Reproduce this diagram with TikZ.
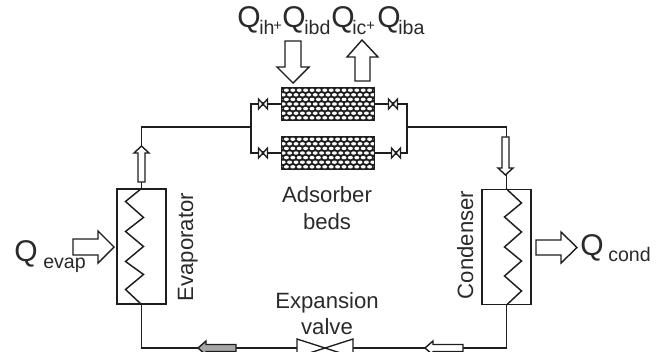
\documentclass[tikz,border=0pt]{standalone}
\usepackage{fontspec}
\setmainfont{Liberation Sans}
\definecolor{ink}{HTML}{1E1E1E}
\definecolor{txt}{HTML}{2A2A2A}
\newcommand{\bigf}{\fontsize{22.5}{26}\selectfont}
\newcommand{\subf}{\fontsize{14.7}{17}\selectfont}
\newcommand{\plusf}{\fontsize{11}{12}\selectfont}
\newcommand{\labf}{\fontsize{16.6}{20}\selectfont}
\newcommand{\bedmesh}[1]{%
  \begin{scope}
    \clip (#1.south west) rectangle (#1.north east);
    \fill[ink] (#1.south west) rectangle (#1.north east);
    \foreach \r in {0,...,6}{
      \foreach \c in {0,...,15}{
        \pgfmathsetmacro{\dx}{\c*6.4+mod(\r,2)*3.2-48}
        \pgfmathsetmacro{\dy}{\r*4.6-13.8}
        \fill[white] ([shift={(\dx,\dy)}]#1.center) ellipse [x radius=2.5, y radius=1.7];
      }
    }
  \end{scope}
  \draw[frame] (#1.south west) rectangle (#1.north east);}
\newcommand{\valveglyph}[1]{%
  \draw[thinline,fill=white] ([shift={(-4.5,-5)}]#1.center) -- ([shift={(4.5,5)}]#1.center) -- ([shift={(4.5,-5)}]#1.center) -- ([shift={(-4.5,5)}]#1.center) -- cycle;
  \draw[thinline] ([shift={(0,-2)}]#1.center) -- ([shift={(0,2)}]#1.center);}
\tikzset{
  x=0.75pt,y=-0.75pt,
  frame/.style={draw=ink,line width=1.05pt},
  thinline/.style={draw=ink,line width=1pt,line join=miter},
  pipe/.style={draw=ink,line width=1pt},
  coil/.style={draw=ink,line width=1.1pt,line join=miter},
  blockarrow/.style={draw=ink,line width=1.05pt,fill=white,line join=miter},
  greyarrow/.style={draw=ink,line width=1.05pt,fill=gray!70,line join=miter},
  unit/.style={draw=ink,line width=1.05pt,minimum width=36.75pt,minimum height=86pt,inner sep=0pt},
  bed/.style={minimum width=69pt,minimum height=24pt,inner sep=0pt},
  junction/.style={inner sep=0pt,minimum size=0pt},
  txtnode/.style={text=txt,inner sep=0pt},
}
\begin{document}
\begin{tikzpicture}
\useasboundingbox (0,0) rectangle (663,351);
\clip (0,0) rectangle (663,351);
% anchors
\node[unit] (evap) at (141.5,246.5) {};
\node[unit] (cond) at (506.5,247) {};
\node[bed] (bedA) at (328,104) {};
\node[bed] (bedB) at (328,153) {};
\node[junction] (vTL) at (263,104) {};
\node[junction] (vBL) at (263,153) {};
\node[junction] (vTR) at (393,104) {};
\node[junction] (vBR) at (396,153) {};
\node[junction] (vExp) at (325,348) {};
\coordinate (busL) at (251,127);
\coordinate (busR) at (407,127);
% pipes
\draw[pipe] (evap.north) |- (busL);
\draw[pipe] (busR) -| (cond.north);
\draw[pipe] (bedA.west) -- (vTL) -- (vTL -| busL) -- (vBL -| busL) -- (vBL) -- (bedB.west);
\draw[pipe] (bedA.east) -- (vTR) -- (vTR -| busR) -- (vBR -| busR) -- (vBR) -- (bedB.east);
\draw[pipe] (evap.south) |- (vExp);
\draw[pipe] (cond.south) |- (vExp);
% beds
\bedmesh{bedA}
\bedmesh{bedB}
% valves
\valveglyph{vTL}\valveglyph{vBL}\valveglyph{vTR}\valveglyph{vBR}
\draw[thinline,fill=white] ([shift={(-28,-9)}]vExp.center) -- ([shift={(28,9)}]vExp.center) -- ([shift={(28,-9)}]vExp.center) -- ([shift={(-28,9)}]vExp.center) -- cycle;
% coils
\draw[coil] (evap.north) -- ++(-16,13) -- ++(18,16) -- ++(-18,14) -- ++(18,15) -- ++(-18,15) -- ++(18,13) -- ++(-18,15) -- (evap.south);
\draw[coil] (cond.north) -- ++(15,14) -- ++(-17,14) -- ++(17,15) -- ++(-17,15) -- ++(17,14) -- ++(-17,15) -- ++(17,15) -- (cond.south);
% block arrows
\draw[blockarrow] (285,41) -- (301,41) -- (301,67) -- (309,67) -- (293,83) -- (277,67) -- (285,67) -- cycle;
\draw[blockarrow] (355,81) -- (370,81) -- (370,57) -- (378,57) -- (362,40) -- (347,57) -- (355,57) -- cycle;
\draw[blockarrow] (73,239) -- (98,239) -- (98,231) -- (114,247) -- (98,263) -- (98,255) -- (73,255) -- cycle;
\draw[blockarrow] (536,240) -- (561,240) -- (561,232) -- (577,247.5) -- (561,263) -- (561,255) -- (536,255) -- cycle;
\draw[blockarrow] (138,182) -- (145,182) -- (145,153) -- (149,153) -- (141.5,146) -- (134,153) -- (138,153) -- cycle;
\draw[blockarrow] (502,137) -- (509,137) -- (509,168) -- (513,168) -- (505.5,175) -- (498,168) -- (502,168) -- cycle;
\draw[greyarrow] (236,344.5) -- (206,344.5) -- (206,341) -- (198,348) -- (206,355) -- (206,351.5) -- (236,351.5) -- cycle;
\draw[blockarrow] (463,344.5) -- (433,344.5) -- (433,341) -- (425,348) -- (433,355) -- (433,351.5) -- (463,351.5) -- cycle;
% labels
\node[txtnode,anchor=base west] (q1) at (237,27) {\bigf Q};
\node[txtnode,anchor=base west] (s1) at (259,34) {\subf ih};
\node[txtnode,anchor=base west] (p1) at (273,30) {\plusf +};
\node[txtnode,anchor=base west] (q2) at (282,27) {\bigf Q};
\node[txtnode,anchor=base west] (s2) at (304,34) {\subf ibd};
\node[txtnode,anchor=base west] (q3) at (331,27) {\bigf Q};
\node[txtnode,anchor=base west] (s3) at (352,34) {\subf ic};
\node[txtnode,anchor=base west] (p2) at (366,30) {\plusf +};
\node[txtnode,anchor=base west] (q4) at (377,27) {\bigf Q};
\node[txtnode,anchor=base west] (s4) at (398,34) {\subf iba};
\node[txtnode,anchor=base west] (qe) at (14,261) {\bigf Q};
\node[txtnode,anchor=base west] (se) at (43,268) {\subf evap};
\node[txtnode,anchor=base west] (qc) at (580,255) {\bigf Q};
\node[txtnode,anchor=base west] (sc) at (608,261) {\subf cond};
\node[txtnode,anchor=base] (ads) at (327,202) {\labf Adsorber};
\node[txtnode,anchor=base] (bds) at (327,229) {\labf beds};
\node[txtnode,anchor=base] (exv) at (327,308) {\labf Expansion};
\node[txtnode,anchor=base] (vlv) at (327,334) {\labf valve};
\node[txtnode,rotate=90,anchor=base] (evl) at (193,247) {\labf Evaporator};
\node[txtnode,rotate=90,anchor=base] (col) at (473,245) {\labf Condenser};
\end{tikzpicture}
\end{document}
